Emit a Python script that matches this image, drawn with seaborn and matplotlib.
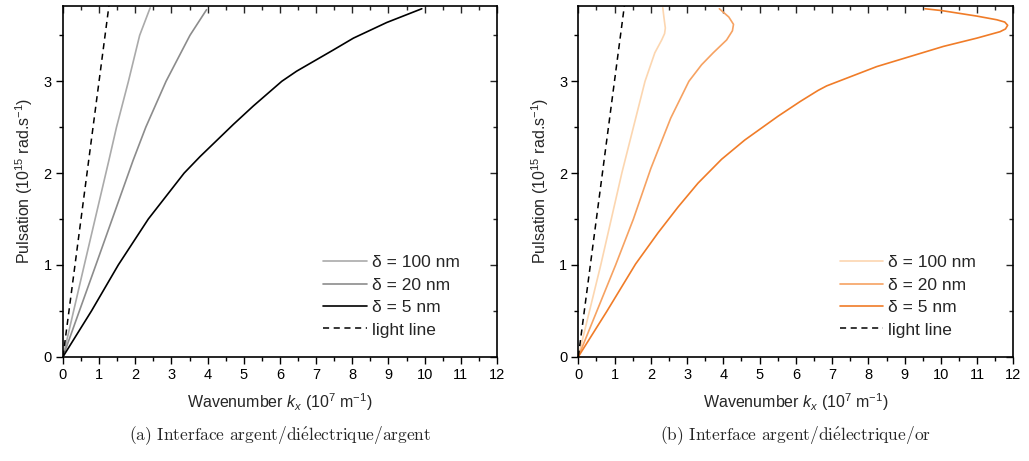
import numpy as np
import pandas as pd
import matplotlib
matplotlib.use("Agg")
import matplotlib.pyplot as plt
import seaborn as sns
from matplotlib.ticker import MultipleLocator

# Dispersion curves (k in 1e7 m^-1, omega in 1e15 rad/s)
light_k = [0.0, 1.27]
light_w = [0.0, 3.82]

# (a) argent / dielectrique / argent
ag_100_k = [0.0, 0.59, 1.27, 1.48, 1.81, 2.12, 2.41]
ag_100_w = [0.0, 1.00, 2.14, 2.50, 3.00, 3.50, 3.80]
ag_20_k = [0.0, 0.91, 1.94, 2.29, 2.85, 3.51, 3.97]
ag_20_w = [0.0, 1.00, 2.14, 2.50, 3.00, 3.50, 3.78]
ag_5_k = [0.0, 0.79, 1.53, 2.36, 3.35, 3.79, 4.71, 5.26, 6.05, 6.46, 7.47, 8.03, 8.95, 9.92]
ag_5_w = [0.0, 0.50, 1.00, 1.50, 2.00, 2.18, 2.53, 2.73, 3.00, 3.11, 3.34, 3.47, 3.64, 3.79]

# (b) argent / dielectrique / or
au_100_k = [0.0, 0.62, 1.20, 1.52, 1.84, 2.11, 2.30, 2.38, 2.40, 2.36, 2.33]
au_100_w = [0.0, 1.00, 2.00, 2.50, 3.00, 3.31, 3.45, 3.52, 3.58, 3.70, 3.80]
au_20_k = [0.0, 1.03, 1.52, 2.00, 2.55, 3.05, 3.40, 3.72, 4.09, 4.25, 4.28, 4.15, 3.89]
au_20_w = [0.0, 1.00, 1.50, 2.05, 2.60, 3.00, 3.18, 3.31, 3.45, 3.55, 3.62, 3.70, 3.79]
au_5_k = [0.0, 0.78, 1.58, 2.20, 2.75, 3.30, 3.95, 4.59, 5.51, 6.12, 6.61, 6.85, 7.31, 8.23,
          9.15, 10.07, 10.99, 11.63, 11.78, 11.84, 11.76, 11.54, 10.99, 10.02, 9.56]
au_5_w = [0.0, 0.49, 1.01, 1.35, 1.63, 1.89, 2.15, 2.36, 2.62, 2.78, 2.90, 2.95, 3.02, 3.16,
          3.27, 3.38, 3.47, 3.54, 3.57, 3.61, 3.645, 3.67, 3.71, 3.77, 3.79]

labels = ["δ = 100 nm", "δ = 20 nm", "δ = 5 nm", "light line"]
grey_colors = ["#aaaaaa", "#8c8c8c", "#000000"]
orange_colors = ["#fcd6b0", "#f6a262", "#f07c28"]
captions = [r"(a) Interface argent/di$\acute{\mathrm{e}}$lectrique/argent",
            r"(b) Interface argent/di$\acute{\mathrm{e}}$lectrique/or"]

sns.set_style("ticks")
plt.rcParams["font.family"] = ["Liberation Sans", "DejaVu Sans"]
plt.rcParams["mathtext.fontset"] = "custom"
plt.rcParams["mathtext.rm"] = "Liberation Sans"
plt.rcParams["mathtext.it"] = "Liberation Sans:italic"

fig = plt.figure(figsize=(10.29, 4.61), dpi=100)
ax1 = fig.add_axes([0.0612, 0.2262, 0.4218, 0.7608])
ax2 = fig.add_axes([0.562, 0.2262, 0.4229, 0.7608])

panels = [
    (ax1, [(ag_100_k, ag_100_w), (ag_20_k, ag_20_w), (ag_5_k, ag_5_w)], grey_colors),
    (ax2, [(au_100_k, au_100_w), (au_20_k, au_20_w), (au_5_k, au_5_w)], orange_colors),
]

for i, (ax, series, colors) in enumerate(panels):
    for (k, w), c, lab in zip(series, colors, labels[:3]):
        df = pd.DataFrame({"k": k, "w": w})
        sns.lineplot(data=df, x="k", y="w", sort=False, estimator=None,
                     color=c, lw=1.2, label=lab, ax=ax)
    df = pd.DataFrame({"k": light_k, "w": light_w})
    sns.lineplot(data=df, x="k", y="w", sort=False, estimator=None, color="black",
                 lw=1.1, ls=(0, (4, 3)), label=labels[3], ax=ax)

    ax.set_xlim(0, 12)
    ax.set_ylim(0, 3.82)
    ax.xaxis.set_major_locator(MultipleLocator(1))
    ax.xaxis.set_minor_locator(MultipleLocator(0.5))
    ax.yaxis.set_major_locator(MultipleLocator(1))
    ax.yaxis.set_minor_locator(MultipleLocator(0.5))
    ax.tick_params(which="both", direction="out", top=False, right=False,
                   labelsize=10.5, width=1.0, colors="black")
    ax.tick_params(which="major", length=5, pad=3)
    ax.tick_params(which="minor", length=3)
    sec_x = ax.secondary_xaxis("top")
    sec_x.xaxis.set_major_locator(MultipleLocator(1))
    sec_x.xaxis.set_minor_locator(MultipleLocator(0.5))
    sec_x.tick_params(which="both", direction="in", labeltop=False, width=1.0)
    sec_x.tick_params(which="major", length=5)
    sec_x.tick_params(which="minor", length=3)
    sec_y = ax.secondary_yaxis("right")
    sec_y.yaxis.set_major_locator(MultipleLocator(1))
    sec_y.yaxis.set_minor_locator(MultipleLocator(0.5))
    sec_y.tick_params(which="both", direction="in", labelright=False, width=1.0)
    sec_y.tick_params(which="major", length=5)
    sec_y.tick_params(which="minor", length=3)
    for s in ax.spines.values():
        s.set_visible(True)
        s.set_linewidth(1.2)
        s.set_color("black")
    sec_x.spines["top"].set_visible(False)
    sec_y.spines["right"].set_visible(False)

    ax.set_xlabel("Wavenumber $k_x$ (10$^7$ m$^{-1}$)", fontsize=11.5, labelpad=7)
    ax.set_ylabel("Pulsation (10$^{15}$ rad.s$^{-1}$)", fontsize=11.5, labelpad=6)

    leg = ax.legend(loc="lower right", bbox_to_anchor=(0.93, 0.035), frameon=False,
                    fontsize=12.5, handlelength=2.5, handletextpad=0.3,
                    labelspacing=0.42, borderaxespad=0)

    cx = (ax.get_position().x0 + ax.get_position().x1) / 2
    fig.text(cx, 0.056, captions[i], ha="center", va="center", fontsize=12.5,
             family=["cmr10", "DejaVu Serif"], math_fontfamily="cm")

fig.savefig("out.png", dpi=100)
